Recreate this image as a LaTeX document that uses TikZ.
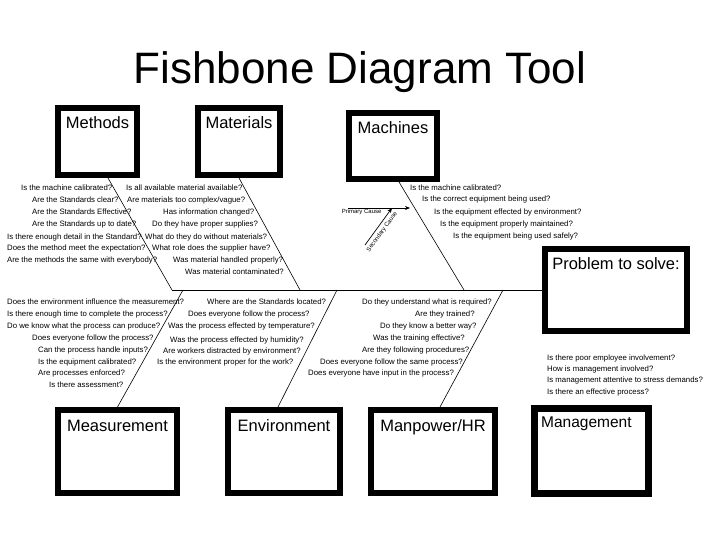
\documentclass[tikz,border=0pt]{standalone}
\usepackage{fontspec}
\setmainfont{Liberation Sans}
\usetikzlibrary{positioning,arrows.meta}

\begin{document}
\begin{tikzpicture}[
x=1pt,y=-1pt,
catbox/.style={
	rectangle,draw=black,line width=6pt,fill=white,inner sep=0pt},
catlabel/.style={
	inner sep=0pt,text height=12pt,text depth=3pt,
	font=\fontsize{16.5}{18}\selectfont},
ask/.style={anchor=west,inner sep=0pt,font=\fontsize{7.8}{9}\selectfont},
bone/.style={draw=black,line width=0.6pt},
cause/.style={inner sep=1pt,font=\fontsize{6}{7}\selectfont}
]
\useasboundingbox (0,0) rectangle (720,540);

\node (title) [anchor=base,font=\fontsize{44}{50}\selectfont] at (360,84) {Fishbone Diagram Tool};

% category boxes
\node[catbox,minimum width=79pt,minimum height=67pt] (methods) at (97.5,141.5) {};
\node[catbox,minimum width=82pt,minimum height=67pt] (materials) at (239,141.5) {};
\node[catbox,minimum width=88pt,minimum height=66pt] (machines) at (393,146) {};
\node[catbox,minimum width=142pt,minimum height=82pt] (problem) at (616,290) {};
\node[catbox,minimum width=119pt,minimum height=83pt] (measurement) at (117.5,451.5) {};
\node[catbox,minimum width=112pt,minimum height=83pt] (environment) at (284,451.5) {};
\node[catbox,minimum width=124pt,minimum height=83pt] (manpower) at (433,451.5) {};
\node[catbox,line width=7pt,minimum width=114pt,minimum height=85pt] (management) at (591.5,451) {};

\node[catlabel,below=11pt of methods.north] (methods label) {Methods};
\node[catlabel,below=11pt of materials.north] (materials label) {Materials};
\node[catlabel,below=11pt of machines.north] (machines label) {Machines};
\node[catlabel,below=11pt of problem.north] (problem label) {Problem to solve:};
\node[catlabel,below=12pt of measurement.north] (measurement label) {Measurement};
\node[catlabel,below=12pt of environment.north] (environment label) {Environment};
\node[catlabel,below=12pt of manpower.north] (manpower label) {Manpower/HR};
\node[catlabel,font=\fontsize{15.5}{17}\selectfont,anchor=north west,
	below right=10pt and 10pt of management.north west] (management label) {Management};

% spine and bones
\coordinate (head) at (172,290);
\coordinate (materials end) at (300,290);
\coordinate (machines end) at (464,290);
\coordinate (measurement end) at (183,290);
\coordinate (environment end) at (337,290);
\coordinate (manpower end) at (503,290);
\draw[bone] (head) -- (problem.west);
\draw[bone] ([xshift=10.5pt]methods.south) -- (head);
\draw[bone] (materials.south) -- (materials end);
\draw[bone] ([xshift=6pt]machines.south) -- (machines end);
\draw[bone] (measurement.north) -- (measurement end);
\draw[bone] ([xshift=-6pt]environment.north) -- (environment end);
\draw[bone] ([xshift=7pt]manpower.north) -- (manpower end);

% legend
\coordinate (primary start) at (348,208);
\coordinate (primary tip) at (410,208);
\coordinate (secondary start) at (365,245);
\coordinate (secondary tip) at (392,208);
\draw[-{Stealth[length=5pt,width=4pt]},line width=0.7pt] (primary start) -- (primary tip)
	node[cause,pos=0.22,below] (primary label) {Primary Cause};
\draw[-{Stealth[length=5pt,width=4pt]},line width=0.7pt] (secondary start) -- (secondary tip)
	node[cause,pos=0.45,sloped,below=2pt] (secondary label) {Secondary Cause};

% methods
\node[ask] (meth1) at (21,188) {Is the machine calibrated?};
\node[ask] (meth2) at (32,200) {Are the Standards clear?};
\node[ask] (meth3) at (32,212) {Are the Standards Effective?};
\node[ask] (meth4) at (32,224) {Are the Standards up to date?};
\node[ask] (meth5) at (7,237) {Is there enough detail in the Standard?};
\node[ask] (meth6) at (7,248) {Does the method meet the expectation?};
\node[ask] (meth7) at (7,260) {Are the methods the same with everybody?};

% materials
\node[ask] (mat1) at (126,188) {Is all available material available?};
\node[ask] (mat2) at (127,200) {Are materials too complex/vague?};
\node[ask] (mat3) at (163,212) {Has information changed?};
\node[ask] (mat4) at (152,224) {Do they have proper supplies?};
\node[ask] (mat5) at (145,237) {What do they do without materials?};
\node[ask] (mat6) at (152,248) {What role does the supplier have?};
\node[ask] (mat7) at (173,260) {Was material handled properly?};
\node[ask] (mat8) at (185,272) {Was material contaminated?};

% machines
\node[ask] (mach1) at (410,188) {Is the machine calibrated?};
\node[ask] (mach2) at (422,199) {Is the correct equipment being used?};
\node[ask] (mach3) at (434,212) {Is the equipment effected by environment?};
\node[ask] (mach4) at (440,224) {Is the equipment properly maintained?};
\node[ask] (mach5) at (453,236) {Is the equipment being used safely?};

% measurement
\node[ask] (meas1) at (7,302) {Does the environment influence the measurement?};
\node[ask] (meas2) at (7,314) {Is there enough time to complete the process?};
\node[ask] (meas3) at (7,326) {Do we know what the process can produce?};
\node[ask] (meas4) at (32,338) {Does everyone follow the process?};
\node[ask] (meas5) at (38,350) {Can the process handle inputs?};
\node[ask] (meas6) at (38,362) {Is the equipment calibrated?};
\node[ask] (meas7) at (38,373) {Are processes enforced?};
\node[ask] (meas8) at (49,385) {Is there assessment?};

% environment
\node[ask] (env1) at (207,302) {Where are the Standards located?};
\node[ask] (env2) at (188,314) {Does everyone follow the process?};
\node[ask] (env3) at (168,326) {Was the process effected by temperature?};
\node[ask] (env4) at (170,340) {Was the process effected by humidity?};
\node[ask] (env5) at (163,351) {Are workers distracted by environment?};
\node[ask] (env6) at (157,362) {Is the environment proper for the work?};

% manpower
\node[ask] (man1) at (362,302) {Do they understand what is required?};
\node[ask] (man2) at (415,314) {Are they trained?};
\node[ask] (man3) at (380,326) {Do they know a better way?};
\node[ask] (man4) at (373,338) {Was the training effective?};
\node[ask] (man5) at (362,350) {Are they following procedures?};
\node[ask] (man6) at (320,362) {Does everyone follow the same process?};
\node[ask] (man7) at (308,373) {Does everyone have input in the process?};

% management
\node[ask] (mgmt1) at (547,358) {Is there poor employee involvement?};
\node[ask] (mgmt2) at (547,369) {How is management involved?};
\node[ask] (mgmt3) at (547,380) {Is management attentive to stress demands?};
\node[ask] (mgmt4) at (547,392) {Is there an effective process?};

\end{tikzpicture}
\end{document}
